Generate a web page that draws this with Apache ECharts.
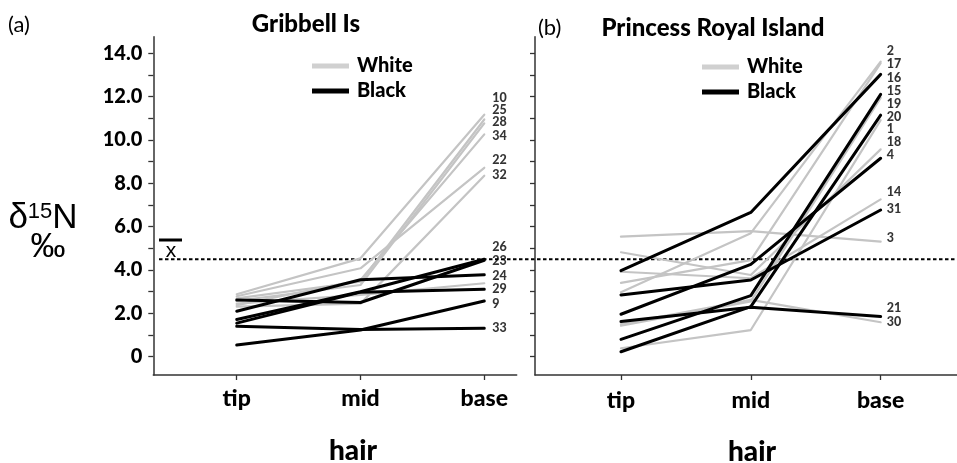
<!DOCTYPE html>
<html>
<head>
<meta charset="utf-8">
<script src="https://cdn.jsdelivr.net/npm/echarts@6/dist/echarts.min.js"></script>
<style>
html,body{margin:0;padding:0;background:#fff;}
#chart{width:957px;height:463px;}
</style>
</head>
<body>
<div id="chart"></div>
<script>
// ---------- data ----------
const categories = ['tip', 'mid', 'base'];
const yTickValues = [0,1,2,3,4,5,6,7,8,9,10,11,12,13,14];
const yLabelValues = [0,2,4,6,8,10,12,14];
const overallMean = 4.5;

// Gribbell Is  (values at tip, mid, base)
const gribbellWhite = [
  [2.88, 4.54, 11.17],
  [2.79, 4.08, 8.72],
  [2.69, 3.46, 10.95],
  [2.58, 3.31, 10.77],
  [2.38, 3.54, 10.26],
  [2.31, 2.45, 8.35],
  [2.45, 2.85, 3.39]
];
const gribbellBlack = [
  [1.72, 3.00, 4.50],
  [2.62, 2.50, 4.45],
  [2.10, 3.55, 3.78],
  [1.55, 2.98, 3.11],
  [0.54, 1.23, 2.57],
  [1.40, 1.25, 1.31]
];
const gribbellIds = ['10','25','28','34','22','32','26','23','24','29','9','33'];
const gribbellIdAt = [11.95, 11.38, 10.82, 10.2, 9.08, 8.41, 5.08, 4.43, 3.74, 3.13, 2.44, 1.31];

// Princess Royal Island
const princessWhite = [
  [2.97, 5.70, 13.62],
  [3.41, 4.46, 13.55],
  [1.43, 2.55, 11.95],
  [0.39, 1.23, 10.92],
  [4.82, 3.77, 9.57],
  [3.92, 3.62, 7.26],
  [5.54, 5.80, 5.31],
  [1.50, 2.62, 1.59]
];
const princessBlack = [
  [3.97, 6.66, 13.03],
  [0.80, 2.82, 12.11],
  [0.23, 2.31, 11.15],
  [1.96, 4.26, 9.16],
  [2.85, 3.54, 6.77],
  [1.62, 2.28, 1.85]
];
const princessIds = ['2','17','16','15','19','20','1','18','4','14','31','3','21','30'];
const princessIdAt = [14.11, 13.49, 12.88, 12.28, 11.66, 11.08, 10.5, 9.92, 9.31, 7.61, 6.81, 5.49, 2.23, 1.59];

// ---------- styles ----------
const FONT = 'Lato, "Open Sans", "Noto Sans", sans-serif';
const HEAVY = 900;
const WHITE_C = '#c4c4c4';
const BLACK_C = '#000000';
const AXIS_C = '#333333';
const Y_MIN = -0.845, Y_MAX = 14.77;
const TOP = 36.7, HEIGHT = 338.3;

const chart = echarts.init(document.getElementById('chart'), null, {renderer: 'canvas'});

function lines(values, name, color, width, idx, z) {
  return values.map(v => ({
    type: 'line', name: name, xAxisIndex: idx, yAxisIndex: idx,
    data: v.map((y, i) => [i + 1, y]),
    symbol: 'none', silent: true, z: z,
    lineStyle: {color: color, width: width, cap: 'round', join: 'round'},
    itemStyle: {color: color}
  }));
}
function idLabels(ids, at, idx, dist) {
  return {
    type: 'scatter', xAxisIndex: idx, yAxisIndex: idx, silent: true, symbolSize: 0, z: 10,
    data: ids.map((id, i) => ({name: id, value: [categories.length, at[i]]})),
    label: {show: true, position: 'right', distance: dist, formatter: p => p.name,
      fontFamily: FONT, fontWeight: HEAVY, fontSize: 12.5, color: '#000'}
  };
}
function xAxis(idx, min, max, margin) {
  return {
    type: 'value', gridIndex: idx, min: min, max: max,
    axisLine: {show: true, onZero: false, lineStyle: {color: AXIS_C, width: 1.5}},
    axisTick: {show: true, length: 5, lineStyle: {color: AXIS_C, width: 1.3},
      customValues: categories.map((c, i) => i + 1)},
    axisLabel: {show: true, margin: margin, customValues: categories.map((c, i) => i + 1),
      formatter: v => categories[Math.round(v) - 1] || '',
      fontFamily: FONT, fontWeight: HEAVY, fontSize: 23, color: '#000'},
    splitLine: {show: false}
  };
}
function yAxis(idx, showLabels) {
  return {
    type: 'value', gridIndex: idx, min: Y_MIN, max: Y_MAX,
    axisLine: {show: true, onZero: false, lineStyle: {color: AXIS_C, width: 1.5}},
    axisTick: {show: true, length: 5, lineStyle: {color: AXIS_C, width: 1.3}, customValues: yTickValues},
    axisLabel: {show: showLabels, margin: 11, customValues: yLabelValues,
      formatter: v => v === 0 ? '0' : v.toFixed(1),
      fontFamily: FONT, fontWeight: HEAVY, fontSize: 20, color: '#000'},
    splitLine: {show: false}
  };
}
function legend(left, top) {
  return {
    left: left, top: top, orient: 'vertical', icon: 'rect', itemWidth: 37, itemHeight: 5,
    itemGap: 5, selectedMode: false, padding: 0,
    textStyle: {fontFamily: FONT, fontWeight: HEAVY, fontSize: 20, color: '#000', padding: [0,0,0,3]},
    data: [{name: 'White', itemStyle: {color: '#d0d0d0'}}, {name: 'Black', itemStyle: {color: '#000'}}]
  };
}

const option = {
  animation: false,
  backgroundColor: '#fff',
  grid: [
    {left: 153.3, top: TOP, width: 363.4, height: HEIGHT},
    {left: 535, top: TOP, width: 422, height: HEIGHT},
    {left: 159, top: TOP, right: 0, height: HEIGHT}
  ],
  xAxis: [
    xAxis(0, 0.326, 3.262, 12),
    xAxis(1, 0.338, 3.588, 14),
    {type: 'value', gridIndex: 2, min: 0, max: 1, show: false}
  ],
  yAxis: [
    yAxis(0, true),
    yAxis(1, false),
    {type: 'value', gridIndex: 2, min: Y_MIN, max: Y_MAX, show: false}
  ],
  legend: [legend(312, 56), legend(702, 57)],
  series: [].concat(
    [{type: 'line', xAxisIndex: 2, yAxisIndex: 2, silent: true, symbol: 'none', z: 1,
      data: [[0, overallMean], [1, overallMean]],
      lineStyle: {color: '#000', width: 2, type: [3.5, 2.5]}}],
    lines(gribbellWhite, 'White', WHITE_C, 2.2, 0, 2),
    lines(gribbellBlack, 'Black', BLACK_C, 3, 0, 3),
    lines(princessWhite, 'White', WHITE_C, 2.2, 1, 2),
    lines(princessBlack, 'Black', BLACK_C, 3, 1, 3),
    [idLabels(gribbellIds, gribbellIdAt, 0, 8), idLabels(princessIds, princessIdAt, 1, 6)]
  ),
  graphic: [
    {type: 'text', style: {text: '(a)', x: 8, y: 25, font: '22px ' + FONT, fill: '#000', textVerticalAlign: 'middle'}},
    {type: 'text', style: {text: '(b)', x: 538, y: 28, font: '22px ' + FONT, fill: '#000', textVerticalAlign: 'middle'}},
    {type: 'text', style: {text: 'Gribbell Is', x: 306, y: 24, font: HEAVY + ' 24px ' + FONT, fill: '#000', textAlign: 'center', textVerticalAlign: 'middle'}},
    {type: 'text', style: {text: 'Princess Royal Island', x: 713, y: 28, font: HEAVY + ' 24px ' + FONT, fill: '#000', textAlign: 'center', textVerticalAlign: 'middle'}},
    {type: 'text', style: {text: 'hair', x: 353, y: 451, font: HEAVY + ' 28px ' + FONT, fill: '#000', textAlign: 'center', textVerticalAlign: 'middle'}},
    {type: 'text', style: {text: 'hair', x: 752, y: 452, font: HEAVY + ' 28px ' + FONT, fill: '#000', textAlign: 'center', textVerticalAlign: 'middle'}},
    {type: 'text', style: {
      text: '{d|δ}{s|15}{d|N}', x: 43, y: 218, textAlign: 'center', textVerticalAlign: 'middle', fill: '#000',
      rich: {
        d: {fontFamily: '"Liberation Sans", Arial, sans-serif', fontSize: 35, fill: '#000', verticalAlign: 'bottom'},
        s: {fontFamily: '"Liberation Sans", Arial, sans-serif', fontSize: 22, fill: '#000', verticalAlign: 'top'}
      }}},
    {type: 'text', style: {text: '‰', x: 48, y: 247, font: '35px "Liberation Sans", Arial, sans-serif', fill: '#000', textAlign: 'center', textVerticalAlign: 'middle'}},
    {type: 'rect', shape: {x: 159, y: 238.5, width: 23, height: 3}, style: {fill: '#000'}},
    {type: 'text', style: {text: 'x', x: 171, y: 251, font: '21px "Liberation Sans", Arial, sans-serif', fill: '#000', textAlign: 'center', textVerticalAlign: 'middle'}}
  ]
};
chart.setOption(option);
</script>
</body>
</html>
